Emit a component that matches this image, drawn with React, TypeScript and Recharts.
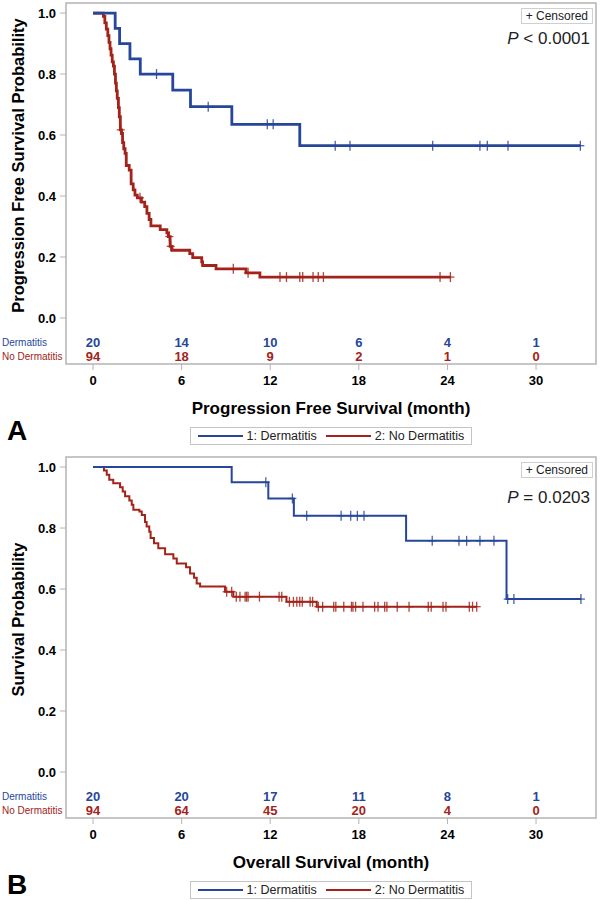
import React from "react";
import {
  ComposedChart,
  Line,
  Scatter,
  XAxis,
  YAxis,
  ReferenceArea,
  Legend,
} from "recharts";

const BLUE = "#26469a";
const RED = "#a3231a";
const FRAME = "#b4b4b4";
const FONT = "Arial, 'Liberation Sans', Helvetica, sans-serif";

const groups = ["1: Dermatitis", "2: No Dermatitis"];
const riskRowLabels = ["Dermatitis", "No Dermatitis"];
const xTicks = [0, 6, 12, 18, 24, 30];
const yTicks = [0, 0.2, 0.4, 0.6, 0.8, 1.0];

// Panel A: progression free survival, [month, probability]
const pfsDermSteps = [
  [0, 1], [1.5, 0.95], [1.8, 0.9], [2.5, 0.85], [3.2, 0.8], [5.4, 0.747],
  [6.6, 0.693], [9.4, 0.635], [14.0, 0.565], [33.0, 0.565],
];
const pfsDermCensor = [
  [4.3, 0.8], [7.8, 0.693], [11.8, 0.635], [12.2, 0.635], [16.4, 0.565],
  [17.4, 0.565], [23.0, 0.565], [26.2, 0.565], [26.7, 0.565], [28.1, 0.565],
  [33.0, 0.565],
];
const pfsNoDermSteps = [
  [0, 1], [0.7, 0.989], [0.8, 0.968], [0.9, 0.947], [1.0, 0.926], [1.08, 0.904],
  [1.15, 0.883], [1.22, 0.862], [1.3, 0.84], [1.38, 0.826], [1.45, 0.8],
  [1.52, 0.77], [1.58, 0.745], [1.64, 0.72], [1.72, 0.69], [1.78, 0.66],
  [1.85, 0.617], [1.93, 0.605], [2.0, 0.575], [2.08, 0.555], [2.17, 0.54],
  [2.25, 0.5], [2.45, 0.485], [2.58, 0.44], [2.72, 0.42], [2.84, 0.403],
  [3.0, 0.394], [3.28, 0.38], [3.5, 0.365], [3.65, 0.343], [3.8, 0.323],
  [3.92, 0.302], [4.55, 0.29], [5.0, 0.279], [5.1, 0.267], [5.22, 0.235],
  [5.35, 0.222], [6.55, 0.211], [6.75, 0.198], [7.36, 0.184], [7.42, 0.172],
  [8.33, 0.161], [10.36, 0.148], [11.3, 0.134], [24.2, 0.134],
];
const pfsNoDermCensor = [
  [1.88, 0.617], [3.18, 0.394], [5.17, 0.267], [5.26, 0.235], [9.5, 0.161],
  [10.5, 0.148], [12.66, 0.134], [13.1, 0.134], [14.0, 0.134], [14.2, 0.134],
  [14.9, 0.134], [15.25, 0.134], [15.6, 0.134], [23.5, 0.134], [24.2, 0.134],
];
const pfsRiskDerm = [20, 14, 10, 6, 4, 1];
const pfsRiskNoDerm = [94, 18, 9, 2, 1, 0];

// Panel B: overall survival
const osDermSteps = [
  [0, 1], [9.39, 0.95], [11.87, 0.897], [13.6, 0.84], [21.2, 0.758],
  [28.0, 0.567], [33.04, 0.567],
];
const osDermCensor = [
  [11.7, 0.95], [13.5, 0.897], [14.47, 0.84], [16.8, 0.84], [17.45, 0.84],
  [17.9, 0.84], [18.35, 0.84], [22.97, 0.758], [24.78, 0.758], [25.3, 0.758],
  [26.2, 0.758], [27.15, 0.758], [28.08, 0.567], [28.5, 0.567], [33.04, 0.567],
];
const osNoDermSteps = [
  [0, 1], [0.74, 0.989], [0.93, 0.975], [1.1, 0.958], [1.37, 0.947],
  [1.83, 0.934], [2.01, 0.92], [2.17, 0.904], [2.46, 0.89], [2.62, 0.876],
  [2.73, 0.86], [3.14, 0.854], [3.3, 0.843], [3.52, 0.82], [3.63, 0.805],
  [3.81, 0.788], [3.9, 0.767], [4.13, 0.75], [4.42, 0.734], [4.88, 0.714],
  [5.44, 0.7], [5.67, 0.684], [6.3, 0.671], [6.57, 0.651], [6.84, 0.637],
  [7.02, 0.618], [7.25, 0.608], [8.94, 0.591], [9.5, 0.575], [13.1, 0.558],
  [15.15, 0.542], [25.98, 0.542],
];
const osNoDermCensor = [
  [9.05, 0.591], [9.39, 0.591], [9.7, 0.575], [9.95, 0.575], [10.3, 0.575],
  [10.4, 0.575], [10.5, 0.575], [11.27, 0.575], [12.6, 0.575], [12.78, 0.575],
  [13.3, 0.558], [13.57, 0.558], [13.8, 0.558], [14.0, 0.558], [14.17, 0.558],
  [14.7, 0.558], [14.87, 0.558], [15.26, 0.542], [15.55, 0.542], [16.3, 0.542],
  [16.44, 0.542], [16.98, 0.542], [17.5, 0.542], [17.6, 0.542], [17.78, 0.542],
  [18.28, 0.542], [19.07, 0.542], [19.3, 0.542], [19.75, 0.542], [19.9, 0.542],
  [20.6, 0.542], [21.4, 0.542], [22.7, 0.542], [22.9, 0.542], [23.7, 0.542],
  [23.9, 0.542], [25.48, 0.542], [25.7, 0.542], [25.98, 0.542],
];
const osRiskDerm = [20, 20, 17, 11, 8, 1];
const osRiskNoDerm = [94, 64, 45, 20, 4, 0];

const X_MIN = -1.83;
const X_MAX = 34.06;
const Y_MIN = -0.151;
const Y_MAX = 1.033;
const RISK_ROWS = [-0.079, -0.128];

const toPts = (arr: number[][]) => arr.map(([t, s]) => ({ t, s }));

const censorShape = (color: string, w: number) => (props: any) => {
  const { cx, cy } = props;
  if (cx == null || cy == null) return null;
  return (
    <g stroke={color} strokeWidth={w} strokeOpacity={0.85}>
      <line x1={cx} x2={cx} y1={cy - 5} y2={cy + 5} />
      <line x1={cx - 4} x2={cx + 4} y1={cy} y2={cy} />
    </g>
  );
};

const riskShape = (color: string) => (props: any) => {
  const { cx, cy } = props;
  const n = props.payload?.n ?? props.n;
  return (
    <text x={cx} y={cy} textAnchor="middle" dominantBaseline="central" fill={color}
      fontSize={13} fontWeight="bold" fontFamily={FONT}>
      {n}
    </text>
  );
};

const rowLabelShape = (color: string) => (props: any) => {
  const { cx, cy } = props;
  const label = props.payload?.label ?? props.label;
  return (
    <text x={cx - 64} y={cy} textAnchor="start" dominantBaseline="central" fill={color}
      fontSize={10} fontFamily={FONT}>
      {label}
    </text>
  );
};

const LegendBox = () => (
  <div style={{ display: "flex", justifyContent: "center" }}>
    <div style={{ display: "flex", alignItems: "center", border: "1px solid #c4c4c4",
      padding: "0 7px", height: 16, fontSize: 12.5, fontFamily: FONT, color: "#222", background: "#fff" }}>
      {groups.map((g, i) => (
        <span key={g} style={{ display: "flex", alignItems: "center", marginLeft: i ? 9 : 0 }}>
          <span style={{ width: 45, borderTop: `2.5px solid ${i ? RED : BLUE}`, marginRight: 4 }} />
          {g}
        </span>
      ))}
    </div>
  </div>
);

interface PanelProps {
  letter: string;
  xTitle: string;
  yTitle: string;
  pLabel: string;
  pTop: number;
  dermSteps: number[][];
  dermCensor: number[][];
  noSteps: number[][];
  noCensor: number[][];
  dermRisk: number[];
  noRisk: number[];
  lineWidth: number;
}

const KMPanel = (p: PanelProps) => {
  const riskDerm = xTicks.map((t, i) => ({ t, s: RISK_ROWS[0], n: p.dermRisk[i] }));
  const riskNo = xTicks.map((t, i) => ({ t, s: RISK_ROWS[1], n: p.noRisk[i] }));
  const rowDerm = [{ t: X_MIN, s: RISK_ROWS[0], label: riskRowLabels[0] }];
  const rowNo = [{ t: X_MIN, s: RISK_ROWS[1], label: riskRowLabels[1] }];

  const xTitle = (props: any) => {
    const { x, y, width } = props.viewBox;
    return (
      <text x={x + width / 2} y={y + 44} textAnchor="middle" dominantBaseline="central"
        fontSize={17} fontWeight="bold" fontFamily={FONT} fill="#000">
        {p.xTitle}
      </text>
    );
  };
  const yTitle = (props: any) => {
    const { y, height } = props.viewBox;
    const cy = y + (height * (Y_MAX - 0.5)) / (Y_MAX - Y_MIN);
    return (
      <text x={18} y={cy} transform={`rotate(-90, 18, ${cy})`} textAnchor="middle"
        dominantBaseline="central" fontSize={16.5} fontWeight="bold" fontFamily={FONT} fill="#000">
        {p.yTitle}
      </text>
    );
  };

  return (
    <div style={{ position: "relative", width: 600, height: 454 }}>
      <ComposedChart width={600} height={454} margin={{ top: 3, right: 4, bottom: 0, left: 0 }}>
        <XAxis type="number" dataKey="t" domain={[X_MIN, X_MAX]} ticks={xTicks}
          height={90} axisLine={false} tickSize={6} tickMargin={6} tickLine={{ stroke: FRAME }}
          tick={{ fill: "#000", fontSize: 13, fontWeight: "bold", fontFamily: FONT }}
          label={{ content: xTitle }} />
        <YAxis type="number" dataKey="s" domain={[Y_MIN, Y_MAX]} ticks={yTicks}
          width={66} axisLine={false} tickSize={6} tickMargin={4} tickLine={{ stroke: FRAME }}
          tickFormatter={(v: number) => v.toFixed(1)}
          tick={{ fill: "#000", fontSize: 13, fontWeight: "bold", fontFamily: FONT }}
          label={{ content: yTitle }} />
        <ReferenceArea x1={X_MIN} x2={X_MAX} y1={Y_MIN} y2={Y_MAX} fill="none" fillOpacity={0}
          stroke={FRAME} strokeWidth={1.5} />
        <Line data={toPts(p.noSteps)} dataKey="s" type="stepAfter" stroke={RED}
          strokeWidth={p.lineWidth} dot={false} activeDot={false} isAnimationActive={false} name={groups[1]} />
        <Line data={toPts(p.dermSteps)} dataKey="s" type="stepAfter" stroke={BLUE}
          strokeWidth={p.lineWidth} dot={false} activeDot={false} isAnimationActive={false} name={groups[0]} />
        <Scatter data={toPts(p.noCensor)} shape={censorShape(RED, 1.3)} isAnimationActive={false} legendType="none" />
        <Scatter data={toPts(p.dermCensor)} shape={censorShape(BLUE, 1.3)} isAnimationActive={false} legendType="none" />
        <Scatter data={riskDerm} shape={riskShape(BLUE)} isAnimationActive={false} legendType="none" />
        <Scatter data={riskNo} shape={riskShape(RED)} isAnimationActive={false} legendType="none" />
        <Scatter data={rowDerm} shape={rowLabelShape(BLUE)} isAnimationActive={false} legendType="none" />
        <Scatter data={rowNo} shape={rowLabelShape(RED)} isAnimationActive={false} legendType="none" />
        <Legend layout="horizontal" verticalAlign="middle" align="center"
          wrapperStyle={{ top: 427, left: 66, width: 530, height: 18 }} content={LegendBox} />
      </ComposedChart>
      <div style={{ position: "absolute", top: 8, right: 7, border: "1px solid #cfcfcf",
        fontSize: 12, lineHeight: "14px", padding: "0 4px", fontFamily: FONT, color: "#222", background: "#fff" }}>
        + Censored
      </div>
      <div style={{ position: "absolute", top: p.pTop - 10, right: 10, fontSize: 17, lineHeight: "20px",
        fontFamily: FONT, color: "#222" }}>
        <i>P</i> {p.pLabel}
      </div>
      <div style={{ position: "absolute", top: 415, left: 7, fontSize: 28, fontWeight: "bold",
        lineHeight: "32px", fontFamily: FONT }}>
        {p.letter}
      </div>
    </div>
  );
};

export default function App() {
  return (
    <div style={{ position: "absolute", left: 0, top: 0, width: 600, height: 900, background: "#fff", overflow: "hidden" }}>
      <KMPanel letter="A" xTitle="Progression Free Survival (month)" yTitle="Progression Free Survival Probability"
        pLabel="< 0.0001" pTop={39} dermSteps={pfsDermSteps} dermCensor={pfsDermCensor}
        noSteps={pfsNoDermSteps} noCensor={pfsNoDermCensor} dermRisk={pfsRiskDerm} noRisk={pfsRiskNoDerm}
        lineWidth={2.8} />
      <KMPanel letter="B" xTitle="Overall Survival (month)" yTitle="Survival Probability"
        pLabel="= 0.0203" pTop={44} dermSteps={osDermSteps} dermCensor={osDermCensor}
        noSteps={osNoDermSteps} noCensor={osNoDermCensor} dermRisk={osRiskDerm} noRisk={osRiskNoDerm}
        lineWidth={2} />
    </div>
  );
}
